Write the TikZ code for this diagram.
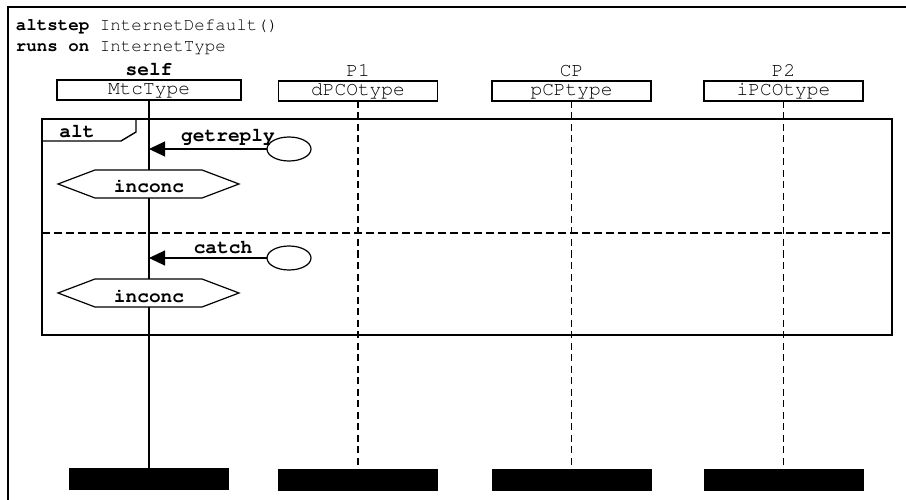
\documentclass[tikz,border=0pt]{standalone}
\usepackage[T1]{fontenc}
\usepackage{courier}
\usetikzlibrary{arrows.meta,shapes.geometric}
\begin{document}
\begin{tikzpicture}[x=1pt,y=-1pt,
  line width=1.2pt,
  every node/.style={inner sep=0pt, outer sep=0pt},
  lbl/.style={font=\ttfamily\fontsize{19.5}{20}\selectfont},
  blbl/.style={font=\ttfamily\bfseries\fontsize{19.5}{20}\selectfont},
  hdr/.style={font=\ttfamily\fontsize{17.5}{18}\selectfont, anchor=base west},
  inst/.style={draw, line width=1.2pt, minimum height=20pt, text height=15pt, text depth=5pt,
    font=\ttfamily\fontsize{19.5}{20}\selectfont},
  endbar/.style={fill=black, minimum width=160pt, minimum height=22pt},
  port/.style={draw, ellipse, fill=white, minimum width=44pt, minimum height=24pt},
  dashline/.style={dash pattern=on 7pt off 4.5pt},
  msg/.style={-{Triangle[length=16pt,width=15pt]}},
]
\useasboundingbox (0,0) rectangle (906,500);
% outer frame
\draw[line width=1.4pt] (8,7) rectangle (930,530);
\node[hdr] (h1) at (16,31) {\textbf{altstep} InternetDefault()};
\node[hdr] (h2) at (16,52) {\textbf{runs on} InternetType};

% instance headers
\node[inst, minimum width=184pt] (selfbox) at (149,90) {MtcType};
\node[inst, minimum width=159pt] (p1box) at (358,91) {dPCOtype};
\node[inst, minimum width=159pt] (cpbox) at (571.5,91) {pCPtype};
\node[inst, minimum width=159pt] (p2box) at (783.5,91) {iPCOtype};
\node[blbl, anchor=base] (selfl) at (149,76) {self};
\node[lbl, anchor=base] (p1l) at (358,77) {P1};
\node[lbl, anchor=base] (cpl) at (571.5,77) {CP};
\node[lbl, anchor=base] (p2l) at (783.5,77) {P2};

% end bars
\node[endbar] (selfend) at (149,479) {};
\node[endbar] (p1end) at (358,479.5) {};
\node[endbar] (cpend) at (571.5,479.5) {};
\node[endbar] (p2end) at (783.5,479.5) {};

% lifelines
\draw (selfbox.south) -- (selfend.north);
\draw[dashline] (p1box.south) -- (p1end.north);
\draw[dashline] (cpbox.south) -- (cpend.north);
\draw[dashline] (p2box.south) -- (p2end.north);

% alt frame
\draw[line width=1.4pt] (42,119) rectangle (892,335);
\draw[line width=1.4pt] (42,141) -- (121,141) -- (136,132) -- (136,119);
\node[blbl, anchor=base] (altl) at (77,138) {alt};
\draw[dashline, dash pattern=on 8pt off 4pt] (42,233) -- (892,233);

% getreply
\node[port] (port1) at (289,149) {};
\coordinate (t1) at (selfbox.south |- port1.west);
\draw[msg] (port1.west) -- (t1);
\node[blbl, anchor=base] (getl) at (228,142) {getreply};

% inconc 1
\draw[fill=white] (58,184) -- (95,170) -- (202,170) -- (239,184) -- (202,198) -- (95,198) -- cycle;
\node[blbl, anchor=base] (inc1) at (149,193) {inconc};

% catch
\node[port] (port2) at (289,258) {};
\coordinate (t2) at (selfbox.south |- port2.west);
\draw[msg] (port2.west) -- (t2);
\node[blbl, anchor=base] (catl) at (223,254) {catch};

% inconc 2
\draw[fill=white] (58,293) -- (95,279) -- (202,279) -- (239,293) -- (202,307) -- (95,307) -- cycle;
\node[blbl, anchor=base] (inc2) at (149,302) {inconc};
\end{tikzpicture}
\end{document}
